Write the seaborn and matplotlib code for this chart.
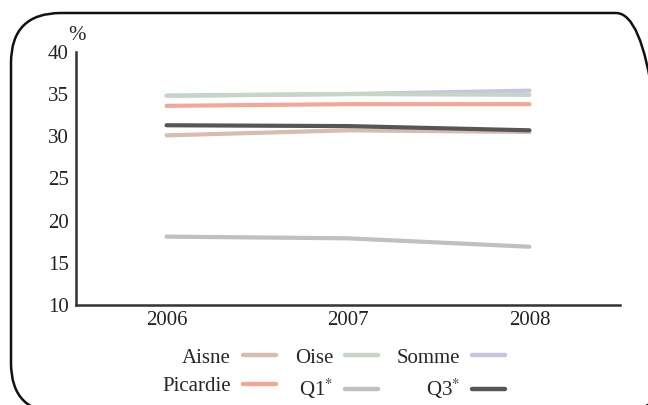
import pandas as pd
import numpy as np
import matplotlib.pyplot as plt
import seaborn as sns
from matplotlib.patches import FancyBboxPatch
from matplotlib.lines import Line2D

# data
years = ['2006', '2007', '2008']
somme = [34.8, 35.0, 35.4]
oise = [34.8, 35.0, 34.9]
picardie = [33.6, 33.8, 33.8]
q3 = [31.3, 31.2, 30.7]
aisne = [30.1, 30.7, 30.5]
q1 = [18.1, 17.9, 16.9]

series_names = ['Somme', 'Oise', 'Picardie', 'Aisne', 'Q3', 'Q1']
series_vals = [somme, oise, picardie, aisne, q3, q1]
colors = {'Aisne': '#d9bcb0', 'Oise': '#c6d6c6', 'Somme': '#c7c4e2',
          'Picardie': '#f4a797', 'Q1': '#bfbfc4', 'Q3': '#555657'}

rows = []
for name, vals in zip(series_names, series_vals):
    for y, v in zip(years, vals):
        rows.append({'year': y, 'value': v, 'serie': name})
df = pd.DataFrame(rows)

sns.set_style('white')
plt.rcParams['font.family'] = ['Liberation Serif', 'DejaVu Serif']
plt.rcParams['mathtext.fontset'] = 'stix'

fig = plt.figure(figsize=(6.48, 4.05), dpi=100)
ax = fig.add_axes([0.117, 0.247, 0.840, 0.625])

sns.lineplot(data=df, x='year', y='value', hue='serie', palette=colors,
             hue_order=series_names, linewidth=3, ax=ax, legend=False,
             solid_capstyle='round')

ax.set_xlim(-0.5, 2.5)
ax.set_ylim(10, 40)
ax.set_yticks([10, 15, 20, 25, 30, 35, 40])
ax.set_xlabel('')
ax.set_ylabel('')
ax.tick_params(axis='both', length=0, labelsize=15, colors='#222222')
ax.tick_params(axis='x', pad=4)
ax.tick_params(axis='y', pad=5)
for s in ['top', 'right']:
    ax.spines[s].set_visible(False)
for s in ['left', 'bottom']:
    ax.spines[s].set_color('#333333')
    ax.spines[s].set_linewidth(1.8)

ax.text(0.002, 1.065, '%', transform=ax.transAxes, fontsize=15, ha='center', va='center')

# legend, label before handle
labels = ['Aisne', 'Picardie', 'Oise', 'Q1$^{*}$', 'Somme', 'Q3$^{*}$']
keys = ['Aisne', 'Picardie', 'Oise', 'Q1', 'Somme', 'Q3']
handles = [Line2D([0], [0], color=colors[k], lw=3.2, solid_capstyle='round') for k in keys]
fig.legend(handles, labels, ncol=3, markerfirst=False, frameon=False,
           loc='center', bbox_to_anchor=(0.515, 0.075), fontsize=15,
           handlelength=1.6, columnspacing=0.9, handletextpad=0.55, labelspacing=0.45,
           borderpad=0)

# rounded frame around the figure (inches)
box = FancyBboxPatch((0.11, -0.08), 6.55, 4.00, boxstyle='round,pad=0,rounding_size=0.5',
                     transform=fig.dpi_scale_trans, fill=False, edgecolor='#111111',
                     linewidth=1.8)
fig.patches.append(box)

fig.savefig('out.png', dpi=100)
